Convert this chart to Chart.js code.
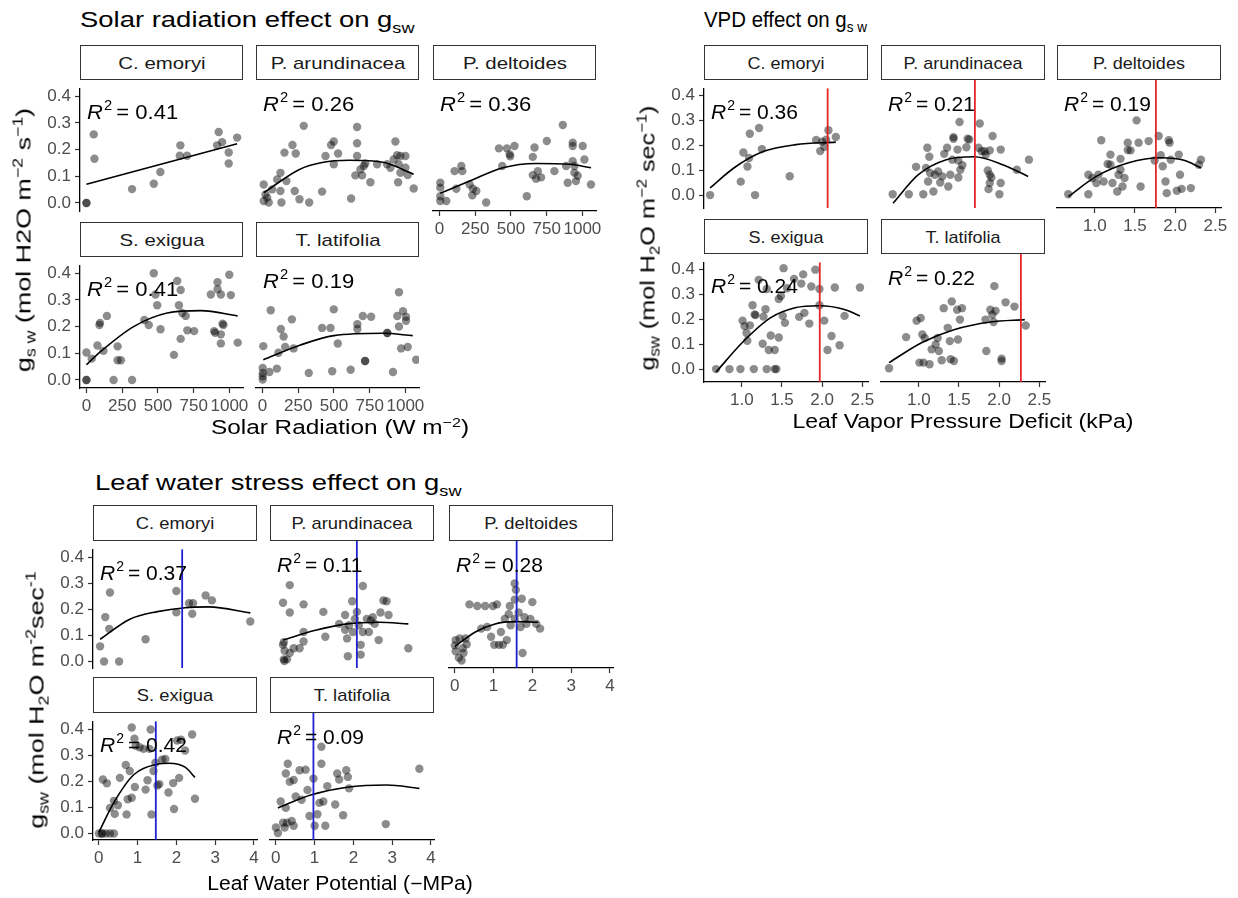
<!DOCTYPE html>
<html>
<head>
<meta charset="utf-8">
<title>Drivers of stomatal conductance</title>
<script src="https://cdn.jsdelivr.net/npm/chart.js@4.4.1/dist/chart.umd.min.js"></script>
<style>
  html, body { margin: 0; padding: 0; background: #fff; }
  body { position: relative; width: 1238px; height: 898px; overflow: hidden;
         font-family: "Liberation Sans", Arial, Helvetica, sans-serif; }
  canvas { position: absolute; }
  .strip { position: absolute; box-sizing: border-box; border: 1.3px solid #333; background: #fff; }
  .strip span { position: absolute; left: 50%; top: 50%; white-space: nowrap; color: #1a1a1a; line-height: 1; }
  .lbl { position: absolute; white-space: nowrap; line-height: 1; color: #000; }
  .lbl sub, .lbl sup { font-size: 66%; line-height: 0; }
</style>
</head>
<body>
<script>
// species order used by every facet grid
const species = ['C. emoryi', 'P. arundinacea', 'P. deltoides', 'S. exigua', 'T. latifolia'];

// ---- Solar radiation (W m-2) vs gsw ----
const solarEmoryiX = [0, 0, 51, 56, 319, 471, 517, 657, 653, 704, 925, 949, 914, 995, 995, 1054];
const solarEmoryiY = [0, 0, 0.257, 0.166, 0.052, 0.072, 0.116, 0.216, 0.177, 0.177, 0.266, 0.228, 0.216, 0.189, 0.148, 0.245];
const solarEmoryiFitX = [0, 1054];
const solarEmoryiFitY = [0.07, 0.222];

const solarArundX = [9, 21, 9, 44, 33, 68, 103, 126, 126, 133, 154, 168, 210, 233, 226, 259, 289, 327, 417, 441, 480, 499, 499, 529, 620, 662, 662, 662, 650, 697, 685, 709, 720, 755, 802, 872, 895, 930, 918, 942, 953, 949, 965, 965, 1000, 1000, 1016, 1058];
const solarArundY = [0.063, 0.028, 0.005, 0, 0.017, 0.046, 0.081, 0.104, 0.040, 0, 0.175, 0.075, 0.202, 0.172, 0.040, 0.011, 0.269, 0, 0.038, 0.163, 0.202, 0.214, 0.134, 0.172, 0.014, 0.265, 0.208, 0.163, 0.095, 0.095, 0.116, 0.128, 0.137, 0.071, 0.134, 0.134, 0.122, 0.214, 0.151, 0.166, 0.134, 0.071, 0.104, 0.163, 0.163, 0.122, 0.096, 0.049];
const solarArundFitX = [9, 259, 417, 608, 852, 1058];
const solarArundFitY = [0.034, 0.116, 0.14, 0.148, 0.14, 0.099];

const solarDeltX = [6, 6, 6, 6, 48, 106, 153, 160, 118, 211, 234, 258, 230, 327, 416, 472, 491, 495, 525, 439, 611, 653, 665, 653, 688, 676, 711, 751, 804, 863, 932, 932, 932, 897, 944, 955, 967, 1002, 1014, 944, 1060, 886];
const solarDeltY = [0.069, 0.052, 0.022, 0.005, 0.005, 0.110, 0.128, 0.110, 0.048, 0.063, 0.048, 0.040, 0.025, 0, 0.190, 0.190, 0.169, 0.162, 0.198, 0.128, 0.022, 0.160, 0.193, 0.096, 0.110, 0.083, 0.088, 0.216, 0.110, 0.272, 0.210, 0.198, 0.145, 0.069, 0.104, 0.075, 0.094, 0.198, 0.151, 0.128, 0.063, 0.128];
const solarDeltFitX = [6, 211, 444, 676, 909, 1060];
const solarDeltFitY = [0.032, 0.075, 0.122, 0.137, 0.134, 0.122];

const solarExiguaX = [0, 0, 0, 37, 77, 91, 95, 119, 143, 190, 218, 218, 241, 319, 405, 436, 471, 483, 495, 518, 612, 635, 647, 659, 659, 670, 694, 706, 753, 870, 893, 900, 917, 917, 940, 940, 940, 952, 958, 999, 1010, 1058];
const solarExiguaY = [0, 0, 0.103, 0.080, 0.129, 0.206, 0.214, 0.109, 0.240, 0, 0.126, 0.074, 0.074, 0, 0.225, 0.206, 0.40, 0.32, 0.28, 0.19, 0.094, 0.371, 0.28, 0.337, 0.154, 0.251, 0.24, 0.186, 0.183, 0.32, 0.183, 0.177, 0.366, 0.34, 0.32, 0.171, 0.137, 0.211, 0.206, 0.394, 0.318, 0.140];
const solarExiguaFitX = [0, 96, 330, 565, 800, 1058];
const solarExiguaFitY = [0.057, 0.105, 0.20, 0.251, 0.26, 0.24];

const solarLatX = [6, 2, 2, 2, 2, 49, 101, 112, 58, 129, 148, 159, 206, 218, 324, 417, 476, 488, 499, 527, 617, 664, 664, 702, 718, 718, 760, 873, 873, 913, 955, 943, 955, 970, 983, 1004, 1004, 1016, 1075];
const solarLatY = [0.117, 0.040, 0.023, 0.011, 0, 0.026, 0.038, 0.094, 0.243, 0.177, 0.151, 0.114, 0.211, 0.109, 0.023, 0.181, 0.181, 0.029, 0.246, 0.126, 0.034, 0.177, 0.194, 0.223, 0.065, 0.065, 0.22, 0.163, 0.163, 0.026, 0.306, 0.223, 0.186, 0.109, 0.24, 0.22, 0.206, 0.114, 0.069];
const solarLatFitX = [6, 261, 499, 844, 1051];
const solarLatFitY = [0.069, 0.12, 0.154, 0.162, 0.154];

const solarR2 = ['0.41', '0.26', '0.36', '0.41', '0.19'];

// ---- Leaf VPD (kPa) vs gsw ----
const vpdEmoryiX = [0.606, 0.987, 1.02, 1.10, 1.215, 1.09, 1.07, 1.165, 1.25, 1.596, 1.925, 1.976, 2.027, 2.078, 2.17, 2.0, 2.05];
const vpdEmoryiY = [0, 0.054, 0.171, 0.247, 0.27, 0.149, 0.115, 0, 0.185, 0.076, 0.222, 0.177, 0.194, 0.261, 0.234, 0.215, 0.223];
const vpdEmoryiFitX = [0.606, 0.91, 1.266, 1.672, 2.17];
const vpdEmoryiFitY = [0.029, 0.111, 0.175, 0.203, 0.213];

const vpdArundX = [0.675, 0.876, 0.966, 1.056, 1.091, 1.106, 1.131, 1.141, 1.116, 1.182, 1.2, 1.24, 1.267, 1.292, 1.317, 1.352, 1.392, 1.367, 1.417, 1.432, 1.432, 1.507, 1.482, 1.492, 1.492, 1.517, 1.542, 1.592, 1.608, 1.628, 1.743, 1.758, 1.783, 1.818, 1.858, 1.883, 1.903, 1.918, 1.883, 2.019, 2.019, 2.003, 1.868, 2.219, 2.37, 1.883, 1.833];
const vpdArundY = [0, 0, 0.103, 0, 0.099, 0.175, 0.141, 0.080, 0.048, 0.010, 0.073, 0.086, 0.044, 0.067, 0.152, 0.175, 0.073, 0.029, 0.130, 0.215, 0.209, 0.272, 0.168, 0.127, 0.063, 0.092, 0.109, 0.177, 0.209, 0.206, 0.175, 0.266, 0.162, 0.162, 0.089, 0.042, 0.063, 0.219, 0.073, 0.168, 0.042, 0, 0.019, 0.092, 0.130, 0.165, 0.149];
const vpdArundFitX = [0.68, 0.991, 1.342, 1.693, 2.044, 2.36];
const vpdArundFitY = [-0.034, 0.073, 0.130, 0.141, 0.111, 0.067];

const vpdDeltX = [0.67, 0.92, 0.92, 0.97, 1.02, 1.08, 1.045, 1.11, 1.16, 1.195, 1.195, 1.22, 1.28, 1.295, 1.32, 1.32, 1.345, 1.37, 1.41, 1.41, 1.445, 1.52, 1.545, 1.57, 1.67, 1.745, 1.795, 1.82, 1.845, 1.88, 1.92, 1.93, 1.895, 1.945, 2.02, 2.045, 2.06, 2.08, 2.195, 2.32, 2.295];
const vpdDeltY = [0, 0, 0.073, 0.061, 0.042, 0.203, 0.073, 0.048, 0.114, 0.111, 0.149, 0.042, 0.010, 0.073, 0.133, 0.092, 0.029, 0.061, 0.194, 0.166, 0.165, 0.278, 0.194, 0.029, 0.2, 0.127, 0.219, 0.147, 0.105, 0.048, 0.203, 0.194, 0.004, 0.130, 0.013, 0.149, 0.073, 0.02, 0.023, 0.130, 0.111];
const vpdDeltFitX = [0.67, 1.02, 1.42, 1.82, 2.12, 2.32];
const vpdDeltFitY = [-0.009, 0.067, 0.118, 0.137, 0.127, 0.099];

const vpdExiguaX = [0.68, 0.847, 0.983, 1.15, 1.31, 1.41, 1.43, 1.01, 1.034, 1.059, 1.069, 1.1, 1.134, 1.16, 1.17, 1.21, 1.26, 1.27, 1.295, 1.31, 1.336, 1.36, 1.41, 1.46, 1.46, 1.487, 1.51, 1.52, 1.537, 1.563, 1.65, 1.714, 1.74, 1.779, 1.764, 1.84, 1.865, 1.915, 1.966, 1.966, 2.026, 2.066, 2.116, 2.157, 2.217, 2.278, 2.47];
const vpdExiguaY = [0, 0, 0, 0, 0, 0, 0, 0.195, 0.173, 0.145, 0.114, 0.176, 0.257, 0.22, 0.217, 0.359, 0.102, 0.211, 0.241, 0.322, 0.077, 0.135, 0.077, 0.127, 0.282, 0.294, 0.214, 0.406, 0.186, 0.325, 0.363, 0.21, 0.344, 0.226, 0.381, 0.183, 0.332, 0.4, 0.322, 0.257, 0.195, 0.077, 0.133, 0.328, 0.096, 0.214, 0.328];
const vpdExiguaFitX = [0.68, 1.01, 1.36, 1.663, 1.966, 2.268, 2.47];
const vpdExiguaFitY = [-0.012, 0.108, 0.207, 0.247, 0.255, 0.241, 0.214];

const vpdLatX = [0.63, 0.842, 0.973, 1.008, 1.024, 1.044, 1.074, 1.059, 1.134, 1.16, 1.21, 1.235, 1.25, 1.285, 1.31, 1.36, 1.386, 1.41, 1.396, 1.437, 1.477, 1.487, 1.512, 1.537, 1.84, 1.83, 1.89, 1.915, 1.93, 1.955, 1.94, 2.03, 2.03, 2.08, 2.19, 2.33];
const vpdLatY = [0, 0.117, 0.179, 0.021, 0.189, 0.127, 0.114, 0.021, 0.015, 0.071, 0.089, 0.114, 0.065, 0.03, 0.226, 0.152, 0.102, 0.251, 0.034, 0.027, 0.22, 0.108, 0.183, 0.226, 0.065, 0.183, 0.22, 0.201, 0.174, 0.216, 0.309, 0.036, 0.027, 0.248, 0.232, 0.161];
const vpdLatFitX = [0.63, 1.034, 1.437, 1.89, 2.318];
const vpdLatFitY = [0.021, 0.096, 0.145, 0.174, 0.183];

const vpdR2 = ['0.36', '0.21', '0.19', '0.24', '0.22'];
const vpdPeak = [2.068, 1.698, 1.76, 1.97, 2.27];   // red vertical lines

// ---- Leaf water potential (-MPa) vs gsw ----
const waterEmoryiX = [0.033, 0.135, 0.523, 0.166, 0.268, 0.288, 1.206, 2.0, 2.0, 2.327, 2.43, 2.41, 2.755, 2.918, 3.907];
const waterEmoryiY = [0.058, 0, 0, 0.170, 0.125, 0.264, 0.085, 0.270, 0.188, 0.223, 0.223, 0.183, 0.253, 0.234, 0.153];
const waterEmoryiFitX = [0.033, 0.798, 1.51, 2.225, 2.837, 3.907];
const waterEmoryiFitY = [0.085, 0.162, 0.191, 0.206, 0.209, 0.186];

const waterArundX = [0.186, 0.207, 0.227, 0.207, 0.288, 0.22, 0.36, 0.186, 0.36, 0.716, 0.36, 0.461, 0.614, 0.716, 0.716, 1.226, 1.277, 1.634, 1.787, 1.787, 1.838, 1.858, 1.97, 1.889, 1.99, 2.04, 2.09, 2.14, 2.19, 2.19, 2.245, 2.245, 2.347, 2.4, 2.45, 2.5, 2.55, 2.653, 2.7, 2.775, 2.857, 2.908, 3.418];
const waterArundY = [0.058, 0.067, 0.037, 0.006, 0.006, 0, 0.272, 0.209, 0.174, 0.203, 0.029, 0.046, 0.046, 0.104, 0.07, 0.176, 0.087, 0.133, 0.165, 0.112, 0.081, 0.017, 0.214, 0.128, 0.104, 0.151, 0.176, 0.128, 0.058, 0.023, 0.269, 0.104, 0.151, 0.104, 0.145, 0.157, 0.133, 0.075, 0.174, 0.217, 0.214, 0.165, 0.046];
const waterArundFitX = [0.186, 1.02, 1.838, 2.653, 3.418];
const waterArundFitY = [0.075, 0.11, 0.133, 0.139, 0.133];

const waterDeltX = [0.002, 0.022, 0.124, 0.022, 0.104, 0.175, 0.225, 0.306, 0.276, 0.205, 0.377, 0.58, 0.783, 0.681, 0.834, 0.935, 1.017, 0.986, 1.087, 1.138, 1.24, 1.189, 1.29, 1.34, 1.39, 1.42, 1.44, 1.544, 1.544, 1.575, 1.544, 1.645, 1.696, 1.747, 1.727, 1.798, 1.848, 1.95, 2.0, 2.1, 2.2];
const waterDeltY = [0.056, 0.075, 0.081, 0.035, 0.012, 0.002, 0.029, 0.06, 0.081, 0.046, 0.203, 0.197, 0.197, 0.116, 0.122, 0.087, 0.058, 0.197, 0.203, 0.058, 0.058, 0.104, 0.151, 0.075, 0.168, 0.197, 0.128, 0.22, 0.278, 0.255, 0.151, 0.174, 0.122, 0.029, 0.223, 0.157, 0.133, 0.151, 0.211, 0.133, 0.116];
const waterDeltFitX = [0.002, 0.53, 1.037, 1.544, 2.15];
const waterDeltFitY = [0.052, 0.104, 0.133, 0.141, 0.139];

const waterExiguaX = [0.003, 0.084, 0.084, 0.186, 0.288, 0.39, 0.105, 0.207, 0.288, 0.39, 0.41, 0.492, 0.543, 0.696, 0.716, 0.747, 0.798, 0.849, 0.849, 0.92, 0.95, 0.93, 1.053, 1.155, 1.206, 1.257, 1.308, 1.338, 1.358, 1.41, 1.46, 1.51, 1.56, 1.634, 1.715, 1.797, 1.919, 1.94, 2.021, 2.072, 2.225, 2.408, 2.48, 2.12];
const waterExiguaY = [0, 0, 0, 0, 0, 0, 0.207, 0.192, 0.098, 0.125, 0.075, 0.108, 0.213, 0.262, 0.073, 0.131, 0.239, 0.137, 0.406, 0.363, 0.336, 0.178, 0.33, 0.324, 0.168, 0.204, 0.324, 0.398, 0.073, 0.239, 0.271, 0.184, 0.189, 0.283, 0.285, 0.157, 0.193, 0.094, 0.356, 0.213, 0.318, 0.379, 0.133, 0.359];
const waterExiguaFitX = [0.003, 0.39, 0.9, 1.51, 1.817, 2.225, 2.48];
const waterExiguaFitY = [0.005, 0.119, 0.225, 0.265, 0.269, 0.254, 0.215];

const waterLatX = [0.003, 0.054, 0.125, 0.186, 0.227, 0.258, 0.288, 0.309, 0.258, 0.36, 0.41, 0.461, 0.513, 0.614, 0.665, 0.767, 0.818, 0.869, 0.971, 1.002, 1.073, 1.124, 1.175, 1.175, 1.226, 1.277, 1.328, 1.532, 1.583, 1.634, 1.736, 1.817, 1.858, 1.889, 2.837, 3.703, 0.461];
const waterLatY = [0.02, 0, 0.113, 0.037, 0.02, 0.09, 0.037, 0.248, 0.213, 0.184, 0.043, 0.026, 0.131, 0.225, 0.119, 0.227, 0.154, 0.061, 0.195, 0.026, 0.067, 0.108, 0.309, 0.248, 0.113, 0.026, 0.168, 0.102, 0.213, 0.192, 0.064, 0.225, 0.201, 0.16, 0.032, 0.23, 0.19];
const waterLatFitX = [0.054, 0.92, 1.838, 2.857, 3.703];
const waterLatFitY = [0.09, 0.137, 0.164, 0.172, 0.16];

const waterR2 = ['0.37', '0.11', '0.28', '0.42', '0.09'];
const waterThreshold = [2.15, 2.09, 1.595, 1.47, 0.97];   // blue vertical lines

const gswTicks = [0, 0.1, 0.2, 0.3, 0.4];
const solarTicks = [0, 250, 500, 750, 1000];
const vpdTicks = [1.0, 1.5, 2.0, 2.5];
const waterTicks = [0, 1, 2, 3, 4];

// ---- layout ----
Chart.defaults.font.family = '"Liberation Sans", Arial, sans-serif';
const FONT = '"Liberation Sans", Arial, sans-serif';
const Y_AXIS_W = 46, X_AXIS_H = 30;
const PAD_L = 64, PAD_R = 38, PAD_T = 6, PAD_B = 36;
const facetPos = [[0, 0], [1, 0], [2, 0], [0, 1], [1, 1]];
const hasXAxis = [false, false, true, true, true];

const solar = {
  cols: [80, 256, 433], w: 163, plotTops: [80, 257], h: 131, stripH: 35,
  xMin: -45, xMax: 1095, yMin: -0.03, yMax: 0.43, xTicks: solarTicks, xFmt: v => String(v),
  stripSx: 1.2, r2Sx: 1.05,
  panels: [[solarEmoryiX, solarEmoryiY, solarEmoryiFitX, solarEmoryiFitY],
           [solarArundX, solarArundY, solarArundFitX, solarArundFitY],
           [solarDeltX, solarDeltY, solarDeltFitX, solarDeltFitY],
           [solarExiguaX, solarExiguaY, solarExiguaFitX, solarExiguaFitY],
           [solarLatX, solarLatY, solarLatFitX, solarLatFitY]],
  r2: solarR2, vlines: null, vColor: null
};
const vpd = {
  cols: [704, 881, 1057], w: 164, plotTops: [80, 254], h: 128, stripH: 35,
  xMin: 0.53, xMax: 2.57, yMin: -0.052, yMax: 0.43, xTicks: vpdTicks, xFmt: v => v.toFixed(1),
  stripSx: 1.06, r2Sx: 1.0,
  panels: [[vpdEmoryiX, vpdEmoryiY, vpdEmoryiFitX, vpdEmoryiFitY],
           [vpdArundX, vpdArundY, vpdArundFitX, vpdArundFitY],
           [vpdDeltX, vpdDeltY, vpdDeltFitX, vpdDeltFitY],
           [vpdExiguaX, vpdExiguaY, vpdExiguaFitX, vpdExiguaFitY],
           [vpdLatX, vpdLatY, vpdLatFitX, vpdLatFitY]],
  r2: vpdR2, vlines: vpdPeak, vColor: 'rgba(228,26,28,0.95)'
};
const water = {
  cols: [93, 270, 449], w: 164, plotTops: [541, 713], h: 127, stripH: 36,
  xMin: -0.15, xMax: 4.08, yMin: -0.025, yMax: 0.43, xTicks: waterTicks, xFmt: v => String(v),
  stripSx: 1.08, r2Sx: 1.0,
  panels: [[waterEmoryiX, waterEmoryiY, waterEmoryiFitX, waterEmoryiFitY],
           [waterArundX, waterArundY, waterArundFitX, waterArundFitY],
           [waterDeltX, waterDeltY, waterDeltFitX, waterDeltFitY],
           [waterExiguaX, waterExiguaY, waterExiguaFitX, waterExiguaFitY],
           [waterLatX, waterLatY, waterLatFitX, waterLatFitY]],
  r2: waterR2, vlines: waterThreshold, vColor: 'rgba(20,20,210,0.95)'
};

function label(html, x, y, size, sx, mode) {
  const d = document.createElement('div');
  d.className = 'lbl';
  d.innerHTML = html;
  d.style.fontSize = size + 'px';
  if (mode === 'rot') {
    d.style.left = x + 'px'; d.style.top = y + 'px';
    d.style.transform = `translate(-50%,-50%) rotate(-90deg) scaleX(${sx})`;
  } else {
    d.style.top = (y - 0.846 * size) + 'px';
    d.style.left = x + 'px';
    if (mode === 'center') d.style.transform = `translateX(-50%) scaleX(${sx})`;
    else { d.style.transformOrigin = 'left center'; d.style.transform = `scaleX(${sx})`; }
  }
  document.body.appendChild(d);
}

function drawPanel(g, i) {
  const [col, row] = facetPos[i];
  const left = g.cols[col], top = g.plotTops[row];
  const showY = col === 0, showX = hasXAxis[i];
  const [px, py, fx, fy] = g.panels[i];

  const strip = document.createElement('div');
  strip.className = 'strip';
  Object.assign(strip.style, { left: left + 'px', top: (top - g.stripH) + 'px', width: g.w + 'px', height: g.stripH + 'px' });
  strip.innerHTML = `<span style="font-size:17px;transform:translate(-50%,-50%) scaleX(${g.stripSx})">${species[i]}</span>`;
  document.body.appendChild(strip);

  const cv = document.createElement('canvas');
  const cw = g.w + PAD_L + PAD_R, ch = g.h + PAD_T + PAD_B;
  cv.width = cw; cv.height = ch;
  Object.assign(cv.style, { left: (left - PAD_L) + 'px', top: (top - PAD_T) + 'px', width: cw + 'px', height: ch + 'px' });
  document.body.appendChild(cv);

  const datasets = [
    { data: px.map((x, k) => ({ x, y: py[k] })), showLine: false, pointRadius: 4.2,
      pointBackgroundColor: 'rgba(0,0,0,0.45)', pointBorderWidth: 0, order: 3 },
    { data: fx.map((x, k) => ({ x, y: fy[k] })), showLine: true, borderColor: '#000', borderWidth: 1.6,
      pointRadius: 0, cubicInterpolationMode: 'monotone', order: 2 }
  ];
  if (g.vlines) {
    datasets.push({ data: [{ x: g.vlines[i], y: g.yMin }, { x: g.vlines[i], y: g.yMax }], showLine: true,
      borderColor: g.vColor, borderWidth: 1.8, pointRadius: 0, order: 1 });
  }

  const tickFont = { family: FONT, size: 17 };
  const r2 = g.r2[i];
  new Chart(cv, {
    type: 'scatter',
    data: { datasets },
    options: {
      responsive: false, animation: false, devicePixelRatio: 1,
      layout: { autoPadding: false, padding: { left: showY ? PAD_L - Y_AXIS_W : PAD_L, right: PAD_R, top: PAD_T, bottom: showX ? PAD_B - X_AXIS_H : PAD_B } },
      plugins: { legend: { display: false }, tooltip: { enabled: false } },
      scales: {
        x: {
          type: 'linear', min: g.xMin, max: g.xMax, display: showX,
          afterBuildTicks: s => { s.ticks = g.xTicks.map(v => ({ value: v })); },
          afterFit: s => { if (showX) s.height = X_AXIS_H; },
          ticks: { callback: g.xFmt, color: '#4d4d4d', font: tickFont, padding: 3, maxRotation: 0, autoSkip: false },
          grid: { display: true, drawOnChartArea: false, drawTicks: true, tickLength: 5, tickColor: '#333', tickWidth: 1.2 },
          border: { display: true, color: '#000', width: 1.3 }
        },
        y: {
          type: 'linear', min: g.yMin, max: g.yMax, display: showY,
          afterBuildTicks: s => { s.ticks = gswTicks.map(v => ({ value: v })); },
          afterFit: s => { if (showY) s.width = Y_AXIS_W; },
          ticks: { callback: v => v.toFixed(1), color: '#4d4d4d', font: tickFont, padding: 4, autoSkip: false },
          grid: { display: true, drawOnChartArea: false, drawTicks: true, tickLength: 5, tickColor: '#333', tickWidth: 1.2 },
          border: { display: true, color: '#000', width: 1.3 }
        }
      }
    },
    plugins: [{
      id: 'r2label',
      afterDatasetsDraw(chart) {
        const { ctx, chartArea } = chart;
        ctx.save();
        ctx.translate(chartArea.left + 7, chartArea.top + 31);
        ctx.scale(g.r2Sx, 1);
        ctx.fillStyle = '#000';
        ctx.textBaseline = 'alphabetic';
        ctx.textAlign = 'left';
        ctx.font = `italic 21px ${FONT}`;
        ctx.fillText('R', 0, 0);
        let x = ctx.measureText('R').width + 1;
        ctx.font = `14px ${FONT}`;
        ctx.fillText('2', x, -9);
        x += ctx.measureText('2').width + 4;
        ctx.font = `21px ${FONT}`;
        ctx.fillText('= ' + r2, x, 0);
        ctx.restore();
      }
    }]
  });
}

[solar, vpd, water].forEach(g => g.panels.forEach((_, i) => drawPanel(g, i)));

// titles and axis titles
label('Solar radiation effect on g<sub>sw</sub>', 80, 28, 22.5, 1.22, 'left');
label('VPD effect on g<sub>s w</sub>', 704, 28, 21.5, 0.95, 'left');
label('Leaf water stress effect on g<sub>sw</sub>', 95, 491, 22.5, 1.22, 'left');

label('Solar Radiation (W m<sup>\u22122</sup>)', 340, 434, 19.5, 1.25, 'center');
label('Leaf Vapor Pressure Deficit (kPa)', 963, 428, 19.5, 1.18, 'center');
label('Leaf Water Potential (\u2212MPa)', 340, 890, 19.5, 1.08, 'center');

label('g<sub>s w</sub> (mol H2O m<sup>\u22122</sup> s<sup>\u22121</sup>)', 23, 240, 21, 1.28, 'rot');
label('g<sub>sw</sub> (mol H<sub>2</sub>O m<sup>\u22122</sup> sec<sup>\u22121</sup>)', 647, 238, 21, 1.2, 'rot');
label('g<sub>sw</sub> (mol H<sub>2</sub>O m<sup>-2</sup>sec<sup>-1</sup>', 36, 700, 21, 1.28, 'rot');
</script>
</body>
</html>
